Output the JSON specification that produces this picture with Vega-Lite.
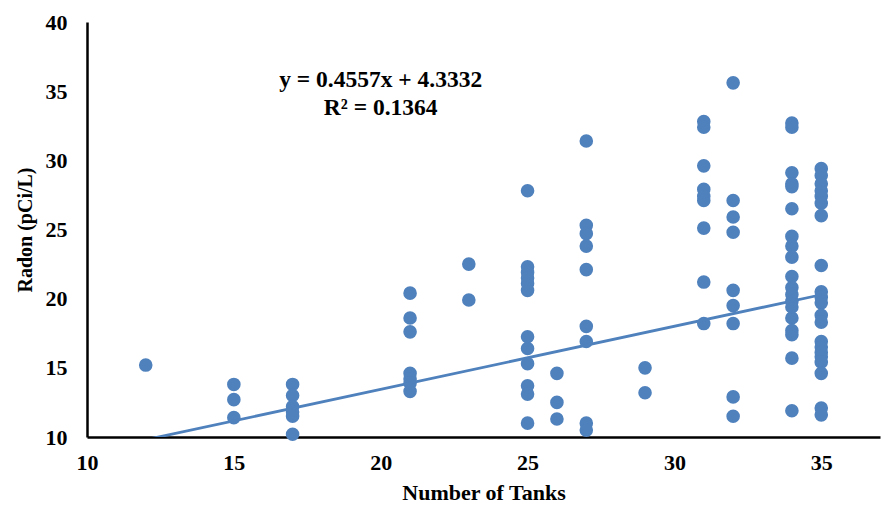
{
  "$schema": "https://vega.github.io/schema/vega-lite/v6.json",
  "width": 793,
  "height": 415,
  "autosize": {"type": "none"},
  "padding": {"left": 87, "top": 22, "right": 2, "bottom": 73},
  "background": "white",
  "config": {
    "view": {"stroke": null},
    "font": "Liberation Serif"
  },
  "datasets": {
    "pts": [
      {"tanks": 12, "radon": 15.2},
      {"tanks": 15, "radon": 13.8}, {"tanks": 15, "radon": 12.7}, {"tanks": 15, "radon": 11.4},
      {"tanks": 17, "radon": 13.8}, {"tanks": 17, "radon": 13.0}, {"tanks": 17, "radon": 12.2}, {"tanks": 17, "radon": 11.8}, {"tanks": 17, "radon": 11.5}, {"tanks": 17, "radon": 10.2},
      {"tanks": 21, "radon": 20.4}, {"tanks": 21, "radon": 18.6}, {"tanks": 21, "radon": 17.6}, {"tanks": 21, "radon": 14.6}, {"tanks": 21, "radon": 14.2}, {"tanks": 21, "radon": 13.9}, {"tanks": 21, "radon": 13.3},
      {"tanks": 23, "radon": 22.5}, {"tanks": 23, "radon": 19.9},
      {"tanks": 25, "radon": 27.8}, {"tanks": 25, "radon": 22.3}, {"tanks": 25, "radon": 21.9}, {"tanks": 25, "radon": 21.5}, {"tanks": 25, "radon": 21.1}, {"tanks": 25, "radon": 20.6}, {"tanks": 25, "radon": 17.25}, {"tanks": 25, "radon": 16.4}, {"tanks": 25, "radon": 15.3}, {"tanks": 25, "radon": 13.7}, {"tanks": 25, "radon": 13.1}, {"tanks": 25, "radon": 11.0},
      {"tanks": 26, "radon": 14.6}, {"tanks": 26, "radon": 12.5}, {"tanks": 26, "radon": 11.3},
      {"tanks": 27, "radon": 31.4}, {"tanks": 27, "radon": 25.3}, {"tanks": 27, "radon": 24.7}, {"tanks": 27, "radon": 23.8}, {"tanks": 27, "radon": 22.1}, {"tanks": 27, "radon": 18.0}, {"tanks": 27, "radon": 16.9}, {"tanks": 27, "radon": 11.0}, {"tanks": 27, "radon": 10.5},
      {"tanks": 29, "radon": 15.0}, {"tanks": 29, "radon": 13.2},
      {"tanks": 31, "radon": 32.8}, {"tanks": 31, "radon": 32.4}, {"tanks": 31, "radon": 29.6}, {"tanks": 31, "radon": 27.9}, {"tanks": 31, "radon": 27.4}, {"tanks": 31, "radon": 27.1}, {"tanks": 31, "radon": 25.1}, {"tanks": 31, "radon": 21.2}, {"tanks": 31, "radon": 18.2},
      {"tanks": 32, "radon": 35.6}, {"tanks": 32, "radon": 27.1}, {"tanks": 32, "radon": 25.9}, {"tanks": 32, "radon": 24.8}, {"tanks": 32, "radon": 20.6}, {"tanks": 32, "radon": 19.5}, {"tanks": 32, "radon": 18.2}, {"tanks": 32, "radon": 12.9}, {"tanks": 32, "radon": 11.5},
      {"tanks": 34, "radon": 32.7}, {"tanks": 34, "radon": 32.4}, {"tanks": 34, "radon": 29.1}, {"tanks": 34, "radon": 28.3}, {"tanks": 34, "radon": 28.1}, {"tanks": 34, "radon": 26.5}, {"tanks": 34, "radon": 24.5}, {"tanks": 34, "radon": 23.8}, {"tanks": 34, "radon": 23.0}, {"tanks": 34, "radon": 21.6}, {"tanks": 34, "radon": 20.8}, {"tanks": 34, "radon": 20.3}, {"tanks": 34, "radon": 19.8}, {"tanks": 34, "radon": 19.4}, {"tanks": 34, "radon": 18.6}, {"tanks": 34, "radon": 17.7}, {"tanks": 34, "radon": 17.4}, {"tanks": 34, "radon": 15.7}, {"tanks": 34, "radon": 11.9},
      {"tanks": 35, "radon": 29.4}, {"tanks": 35, "radon": 28.9}, {"tanks": 35, "radon": 28.3}, {"tanks": 35, "radon": 27.8}, {"tanks": 35, "radon": 27.4}, {"tanks": 35, "radon": 26.9}, {"tanks": 35, "radon": 26.0}, {"tanks": 35, "radon": 22.4}, {"tanks": 35, "radon": 20.5}, {"tanks": 35, "radon": 20.1}, {"tanks": 35, "radon": 19.7}, {"tanks": 35, "radon": 18.8}, {"tanks": 35, "radon": 18.3}, {"tanks": 35, "radon": 16.9}, {"tanks": 35, "radon": 16.5}, {"tanks": 35, "radon": 16.1}, {"tanks": 35, "radon": 15.8}, {"tanks": 35, "radon": 15.4}, {"tanks": 35, "radon": 14.6}, {"tanks": 35, "radon": 12.1}, {"tanks": 35, "radon": 11.6}
    ],
    "trend": [
      {"tanks": 12, "radon": 9.8016},
      {"tanks": 35, "radon": 20.2827}
    ],
    "notes": [
      {"tanks": 20, "radon": 35.8, "label": "y = 0.4557x + 4.3332"},
      {"tanks": 20, "radon": 33.8, "label": "R² = 0.1364"}
    ]
  },
  "layer": [
    {
      "data": {"name": "pts"},
      "mark": {"type": "circle", "size": 185, "color": "#4F81BD", "opacity": 1},
      "encoding": {
        "x": {
          "field": "tanks", "type": "quantitative",
          "scale": {"domain": [10, 37], "nice": false, "zero": false},
          "axis": {
            "title": "Number of Tanks",
            "values": [10, 15, 20, 25, 30, 35],
            "grid": false, "ticks": false,
            "domainColor": "black", "domainWidth": 2.5,
            "labelFont": "Liberation Serif", "labelFontSize": 22, "labelFontWeight": "bold", "labelColor": "black",
            "labelPadding": 15, "labelFlush": false,
            "titleFont": "Liberation Serif", "titleFontSize": 22, "titleFontWeight": "bold", "titleColor": "black",
            "titlePadding": 9
          }
        },
        "y": {
          "field": "radon", "type": "quantitative",
          "scale": {"domain": [10, 40], "nice": false, "zero": false},
          "axis": {
            "title": "Radon (pCi/L)",
            "values": [10, 15, 20, 25, 30, 35, 40],
            "grid": false, "ticks": false,
            "domainColor": "black", "domainWidth": 2.5,
            "labelFont": "Liberation Serif", "labelFontSize": 22, "labelFontWeight": "bold", "labelColor": "black",
            "labelPadding": 20,
            "titleFont": "Liberation Serif", "titleFontSize": 20, "titleFontWeight": "bold", "titleColor": "black",
            "titlePadding": 10
          }
        }
      }
    },
    {
      "data": {"name": "trend"},
      "mark": {"type": "line", "color": "#4F81BD", "strokeWidth": 2.8, "clip": true},
      "encoding": {
        "x": {"field": "tanks", "type": "quantitative"},
        "y": {"field": "radon", "type": "quantitative"}
      }
    },
    {
      "data": {"name": "notes"},
      "mark": {"type": "text", "font": "Liberation Serif", "fontSize": 23.5, "fontWeight": "bold", "color": "black", "align": "center", "baseline": "middle"},
      "encoding": {
        "x": {"field": "tanks", "type": "quantitative"},
        "y": {"field": "radon", "type": "quantitative"},
        "text": {"field": "label"}
      }
    }
  ]
}
